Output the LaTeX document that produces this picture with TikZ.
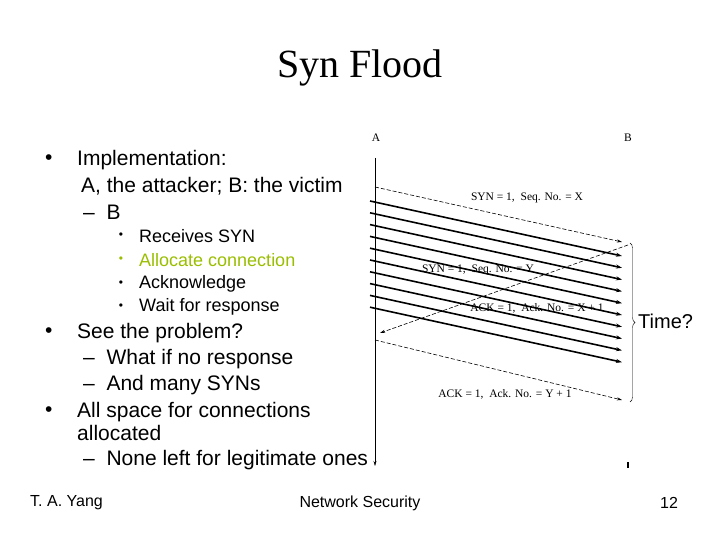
\documentclass[tikz,border=0pt]{standalone}
\usepackage{fontspec}
\setmainfont{Liberation Sans}
\newfontfamily\serifT{Liberation Serif}
\usetikzlibrary{decorations.pathreplacing,arrows.meta}
\definecolor{hl}{RGB}{153,190,0}
\begin{document}
\begin{tikzpicture}[x=1pt,y=-1pt,
  txt/.style={anchor=west,inner sep=0pt,font=\fontsize{21}{22}\selectfont},
  sub/.style={anchor=west,inner sep=0pt,font=\fontsize{18}{19}\selectfont},
  lbl/.style={inner sep=0pt,font=\serifT\fontsize{11.5}{12}\selectfont},
  msg/.style={dashed,dash pattern=on 4pt off 2pt,-{Stealth[length=5pt,width=3pt]},semithick},
  flood/.style={line width=1.6pt,-{Stealth[length=6pt,width=4pt]}}]
\useasboundingbox (0,0) rectangle (720,540);
\node[font=\serifT\fontsize{40}{44}\selectfont] (title) at (360,68) {Syn Flood};
% left text
\node[txt] (b1) at (45,160) {•};
\node[txt] (t1) at (77,160) {Implementation:};
\node[txt] (t2) at (81,186) {A, the attacker; B: the victim};
\node[txt] (t3) at (83,212) {–\ \ B};
\foreach \y/\s/\c [count=\i] in {236/Receives SYN/black,260/Allocate connection/hl,284/Acknowledge/black,307/Wait for response/black}{
  \node[anchor=center,inner sep=0pt,text=\c,font=\fontsize{12}{12}\selectfont] (sb\i) at (121,\y) {•};
  \node[sub,text=\c] (st\i) at (139,\y) {\s};
}
\node[txt] (b2) at (45,333) {•};
\node[txt] (t4) at (77,333) {See the problem?};
\node[txt] (t5) at (83,359) {–\ \ What if no response};
\node[txt] (t6) at (83,385) {–\ \ And many SYNs};
\node[txt] (b3) at (45,412) {•};
\node[txt] (t7) at (77,412) {All space for connections};
\node[txt] (t8) at (77,433) {allocated};
\node[txt] (t9) at (83,460) {–\ \ None left for legitimate ones};
% footer
\node[anchor=west,inner sep=0pt,font=\fontsize{16}{18}\selectfont] (f1) at (30,503) {T. A. Yang};
\node[inner sep=0pt,font=\fontsize{16}{18}\selectfont] (f2) at (360,503) {Network Security};
\node[inner sep=0pt,font=\fontsize{16}{18}\selectfont] (f3) at (669,503) {12};
% diagram
\node[lbl] (A) at (376,138) {A};
\node[lbl] (B) at (628,138) {B};
\coordinate (Atop) at (375,158);
\coordinate (Abot) at (375,466);
\draw[-{Stealth[length=5pt,width=3pt]}] (Atop) -- (Abot);
\coordinate (Bt1) at (628,462);
\coordinate (Bt2) at (628,468);
\draw[line width=1.2pt] (Bt1) -- (Bt2);
\coordinate (m1s) at (375,187); \coordinate (m1e) at (622,242);
\draw[msg] (m1s) -- (m1e);
\node[lbl,fill=white] (l1) at (527,198) {SYN = 1,\ \ Seq. No. = X};
\foreach \i in {0,...,9}{
  \coordinate (fs\i) at (370,201+11.8*\i);
  \coordinate (fe\i) at (622,256+11.8*\i);
  \draw[flood] (fs\i) -- (fe\i);
}
\coordinate (m2s) at (628,245); \coordinate (m2e) at (380,333);
\draw[msg] (m2s) -- (m2e);
\node[lbl] (l2) at (478,270) {SYN = 1,\ \ Seq. No. = Y};
\node[lbl] (l3) at (537,308) {ACK = 1,\ \ Ack. No. = X + 1};
\coordinate (m3s) at (375,340); \coordinate (m3e) at (622,400);
\draw[msg] (m3s) -- (m3e);
\node[lbl] (l4) at (505,394) {ACK = 1,\ \ Ack. No. = Y + 1};
\coordinate (br1) at (630,243); \coordinate (br2) at (630,402);
\draw[decorate,decoration={brace,amplitude=5pt}] (br1) -- (br2);
\node[anchor=west,inner sep=0pt,font=\fontsize{20}{22}\selectfont] (time) at (638,321) {Time?};
\end{tikzpicture}
\end{document}
